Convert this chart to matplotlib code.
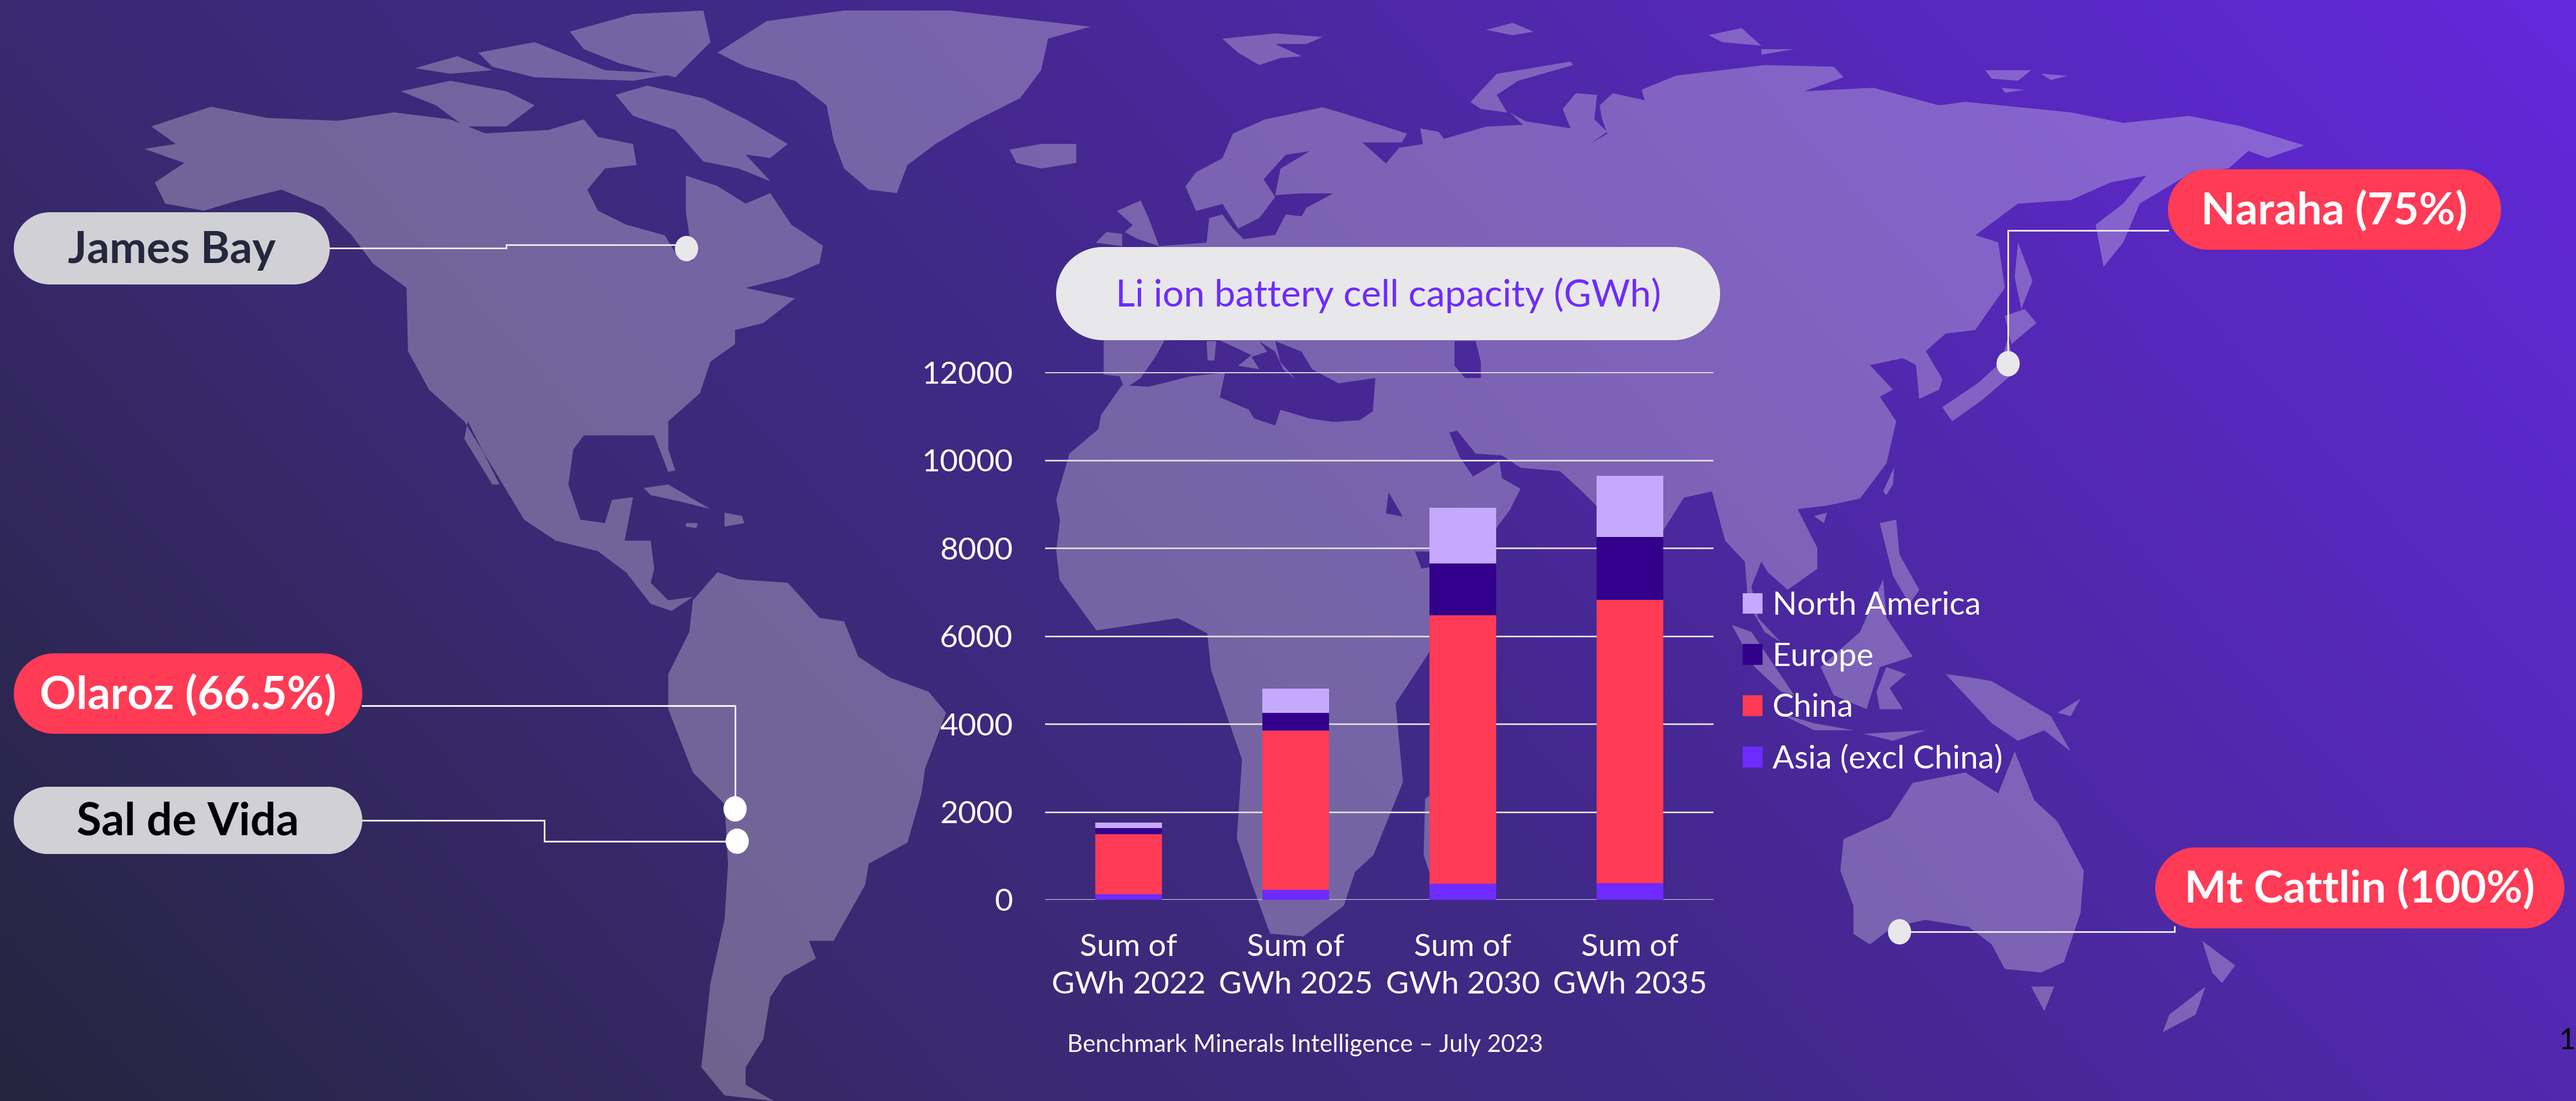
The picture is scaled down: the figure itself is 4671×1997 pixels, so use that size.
import numpy as np
import matplotlib
matplotlib.use("Agg")
import matplotlib.pyplot as plt
from matplotlib.colors import LinearSegmentedColormap
from matplotlib.patches import Polygon, Ellipse, PathPatch
from matplotlib.path import Path

W, H = 4671, 1997
DPI = 100
plt.rcParams['font.family'] = ['Lato', 'DejaVu Sans']

# ---------- chart data ----------
categories = ["Sum of\nGWh 2022", "Sum of\nGWh 2025", "Sum of\nGWh 2030", "Sum of\nGWh 2035"]
asia_excl_china = [130, 230, 360, 370]
china = [1365, 3625, 6110, 6447]
europe = [140, 395, 1175, 1430]
north_america = [115, 550, 1275, 1390]
y_ticks = [0, 2000, 4000, 6000, 8000, 10000, 12000]

# ---------- helpers mapping traced crops to pixels ----------
def z1(p): return [(1600 + x * 1.339, 400 + y * 1.0185) for x, y in p]
def z2(p): return [(x * 1.2755, y * 1.2736) for x, y in p]
def z3(p): return [(2800 + x * 1.1933, y * 1.2736) for x, y in p]
def z4(p): return [(1700 + x * 0.9566, y * 0.6378) for x, y in p]

# ---------- decorative world map outline (background only) ----------
land = [
 z2([(215,180),(300,152),(380,168),(480,172),(560,160),(640,170),(690,190),(780,185),(830,170),(850,195),(900,205),(905,235),(860,240),(835,270),(850,300),(890,320),(945,335),(960,360),(985,372),(975,300),(975,250),(1020,265),(1060,290),(1095,275),(1125,320),(1170,350),(1165,375),(1120,395),(1060,410),(1130,425),(1085,460),(1045,470),(1045,490),(1010,515),(995,560),(950,600),(950,640),(960,670),(950,672),(930,620),(880,620),(830,620),(815,640),(808,690),(825,740),(860,745),(870,712),(900,708),(888,770),(925,770),(930,810),(925,830),(950,855),(985,850),(955,870),(925,860),(890,815),(850,785),(790,770),(745,740),(700,665),(660,600),(610,555),(580,500),(578,410),(530,375),(500,335),(460,295),(400,270),(340,285),(290,300),(235,290),(220,260),(262,232),(205,212),(250,205)]),
 z2([(875,135),(920,122),(1000,140),(1060,170),(1120,205),(1095,225),(1060,220),(1095,258),(1050,240),(1000,230),(960,185),(900,165)]),
 z2([(570,130),(640,115),(720,130),(760,150),(720,180),(660,180),(620,150)]),
 z2([(590,97),(650,80),(700,100),(640,105)]),
 z2([(810,45),(900,20),(1000,15),(1010,60),(960,110),(880,90),(830,70)]),
 z2([(680,75),(760,60),(860,100),(960,105),(900,115),(760,110),(700,95)]),
 z2([(1020,75),(1090,30),(1200,15),(1350,15),(1550,38),(1490,55),(1480,100),(1450,140),(1380,175),(1330,205),(1290,235),(1275,275),(1235,270),(1200,240),(1185,200),(1175,150),(1130,115),(1060,95)]),
 z2([(1435,213),(1480,205),(1530,205),(1530,232),(1480,240),(1445,232)]),
 z2([(915,695),(950,690),(1010,725),(970,715),(925,705)]),
 z2([(1030,730),(1055,735),(1058,745),(1030,750)]),
 z2([(975,745),(992,745),(990,752),(975,750)]),
 z2([(985,855),(1020,815),(1050,825),(1120,830),(1165,880),(1200,885),(1220,935),(1265,965),(1320,985),(1345,1015),(1315,1095),(1310,1130),(1290,1200),(1235,1230),(1230,1260),(1185,1340),(1150,1340),(1160,1365),(1115,1390),(1095,1420),(1085,1480),(1060,1520),(1060,1545),(1100,1568),(1030,1560),(997,1520),(1010,1400),(1030,1310),(1035,1230),(1030,1145),(985,1100),(950,1010),(950,960),(980,900)]),
 # Africa
 z4([(750,1200),(800,1195),(790,1240),(820,1290),(855,1400),(850,1460),(885,1470),(905,1530),(905,1568)])
 + z1([(730,620),(775,610),(865,480),(830,530),(740,770),(710,830),(695,860),(705,1000),(665,1130),(640,1160),(625,1220),(570,1275),(525,1270),(500,1180),(480,1100),(487,960),(445,800),(440,735),(400,708),(340,720),(290,730),(240,640)])
 + z4([(225,1568),(232,1480),(225,1420),(250,1290),(305,1220),(310,1180),(350,1095),(400,1100),(480,1070),(545,1060),(535,1130),(590,1165),(600,1190),(640,1210),(650,1165),(705,1190)]),
 z1([(735,1030),(745,1020),(748,1190),(733,1130)]),
 # Eurasia
 z4([(420,700),(510,690),(515,620),(540,610),(560,650),(580,680),(640,668),(660,610),(690,615),(700,590),(750,550),(690,550),(640,555),(650,480),(705,430),(660,440),(618,510),(640,560),(610,620),(570,650),(540,580),(490,600),(470,530),(490,490),(540,450),(560,380),(620,340),(730,305),(775,325),(890,380),(880,405),(805,405),(850,465),(875,420),(920,410),(915,365),(950,375),(960,395),(1040,360),(1110,355),(1085,320),(1115,345),(1200,365),(1185,310),(1210,265),(1250,270),(1245,340),(1270,375),(1235,410),(1270,380),(1260,340),(1255,300),(1280,265),(1340,285),(1335,255),(1400,215),(1568,185)])
 + z3([(440,95),(455,110),(395,130),(500,125),(600,150),(640,145),(800,160),(880,175),(980,165),(1060,180),(1155,207),(1100,225),(1070,215),(1040,240),(985,245),(905,290),(880,345),(850,380),(838,320),(880,290),(915,250),(860,260),(800,285),(720,290),(655,335),(690,345),(700,410),(655,470),(610,475),(580,500),(605,540),(600,555),(570,568),(565,520),(545,510),(495,520),(530,555),(510,565),(535,600),(520,660),(480,710),(430,720),(385,725),(415,780),(415,810),(370,840),(340,815),(330,800),(315,835),(325,880),(360,915),(335,900),(310,860),(305,800),(275,770),(255,700)])
 + z4([(1415,1415),(1377,1505),(1315,1640),(1270,1520),(1250,1440),(1220,1395),(1180,1340),(1105,1330),(1070,1295),(1020,1290),(985,1225),(970,1230),(990,1300),(1015,1355),(1055,1320),(1065,1310),(1070,1360),(1105,1390),(1085,1450),(1060,1500),(960,1570),(905,1568),(890,1490),(855,1400),(820,1290),(790,1240),(800,1195),(825,1170),(830,1075),(760,1090),(710,1050),(690,1000),(640,970),(650,1030),(680,1080),(655,1050),(640,1000),(610,970),(625,1000),(595,1015),(610,1050),(570,1040),(595,1010),(560,985),(530,965),(430,968),(415,1010),(385,1075),(355,1105),(345,1070),(315,1065),(315,960),(350,800)]),
 z4([(340,600),(385,570),(400,620),(420,700),(380,680),(355,660),(370,640)]),
 z4([(300,690),(320,660),(350,665),(350,700)]),
 z4([(510,970),(528,970),(525,1025),(512,1025)]),
 z4([(540,110),(640,95),(730,105),(700,125),(640,125),(690,160),(650,165),(610,185),(570,150)]),
 z4([(1010,290),(1060,210),(1200,175),(1205,185),(1100,230),(1060,270),(1080,320),(1030,310)]),
 z4([(1040,85),(1090,65),(1130,90),(1090,100)]),
 z3([(250,50),(300,40),(330,65),(270,60)]),
 z3([(330,70),(380,70),(330,78)]),
 z3([(670,100),(740,100),(720,115),(680,112)]),
 z3([(755,105),(795,108),(770,114)]),
 z3([(695,125),(730,128),(700,132)]),
 z3([(720,345),(742,400),(725,440),(715,395)]),
 z3([(700,450),(730,440),(748,460),(710,490)]),
 z3([(605,580),(660,545),(695,515),(705,480),(715,530),(665,570),(620,600)]),
 z3([(515,700),(532,665),(530,690),(520,705)]),
 z3([(510,745),(535,740),(540,790),(570,840),(555,860),(530,820)]),
 z3([(410,735),(430,730),(425,745)]),
 z3([(285,890),(315,900),(380,990),(360,985),(320,950)]),
 z3([(420,950),(480,900),(515,825),(520,880),(560,935),(510,950),(490,1010),(440,990)]),
 z3([(505,985),(520,950),(550,960),(525,980),(545,1010),(510,1010)]),
 z3([(355,1015),(410,1030),(470,1040),(410,1040)]),
 z3([(485,1045),(580,1040),(530,1055)]),
 z3([(610,960),(650,965),(680,970),(770,1020),(800,1070),(760,1040),(720,1055),(680,1030),(640,990)]),
 z3([(780,1015),(815,995),(800,1020)]),
 z3([(455,1195),(525,1165),(560,1115),(640,1100),(690,1130),(715,1070),(745,1140),(780,1170),(820,1240),(815,1300),(790,1370),(755,1385),(700,1380),(680,1345),(645,1320),(580,1310),(530,1320),(495,1345),(470,1330),(470,1290),(450,1240)]),
 z3([(740,1405),(775,1405),(760,1440)]),
 z3([(1000,1340),(1050,1375),(1030,1400),(1015,1385)]),
 z3([(1005,1405),(990,1445),(940,1470),(950,1445)]),
]
holes = [
 z4([(980,970),(1020,970),(1030,1030),(1030,1075),(1000,1075),(980,1040)]),
 z2([(665,600),(710,690),(700,690),(660,625)]),
]

def oriented(poly, ccw=True):
    a = np.array(poly)
    s = np.sum(a[:, 0] * np.roll(a[:, 1], -1) - np.roll(a[:, 0], -1) * a[:, 1])
    return a if (s > 0) == ccw else a[::-1]

verts, codes = [], []
for poly, ccw in [(p, True) for p in land] + [(p, False) for p in holes]:
    a = oriented(poly, ccw)
    verts += list(map(tuple, a)) + [tuple(a[0])]
    codes += [Path.MOVETO] + [Path.LINETO] * (len(a) - 1) + [Path.CLOSEPOLY]

# ---------- figure ----------
fig = plt.figure(figsize=(W / DPI, H / DPI), dpi=DPI)
bg = fig.add_axes([0, 0, 1, 1])
bg.set_xlim(0, W); bg.set_ylim(H, 0); bg.axis('off')

xx, yy = np.meshgrid(np.linspace(0, 1, 600), np.linspace(0, 1, 300))
t = xx * 0.72 + (1 - yy) * 0.28
cmap = LinearSegmentedColormap.from_list('bg', [(0, '#25253f'), (0.28, '#3a2a72'), (0.5, '#42298a'), (0.72, '#5228af'), (1, '#6329dc')])
bg.imshow(t, extent=(0, W, H, 0), cmap=cmap, vmin=0, vmax=1, aspect='auto', zorder=0)
bg.add_patch(PathPatch(Path(verts, codes), fc='#e8e2ea', ec='none', alpha=0.32, zorder=1))
bg.set_xlim(0, W); bg.set_ylim(H, 0)

GREY, RED, LIGHT = '#d0d0d5', '#ff3b56', '#e8e8eb'

def pill(x0, x1, y0, y1, fc, text, tc, size, weight='bold'):
    r = (y1 - y0) / 2
    cy = (y0 + y1) / 2
    a = np.linspace(-np.pi / 2, np.pi / 2, 60)
    px = np.r_[x1 - r + r * np.cos(a), x0 + r - r * np.cos(a[::-1])[::-1] * 0 - r * np.cos(a)]
    py = np.r_[cy + r * np.sin(a), cy - r * np.sin(a)]
    bg.add_patch(Polygon(np.c_[px, py], closed=True, fc=fc, ec='none', zorder=5))
    bg.text((x0 + x1) / 2, cy + 3, text, color=tc, fontsize=size, fontweight=weight,
            ha='center', va='center', zorder=6)

def leader(points, dot, color='white', lw=2.2):
    p = np.array(points)
    bg.plot(p[:, 0], p[:, 1], color=color, lw=lw, solid_joinstyle='miter', zorder=3)
    bg.add_patch(Ellipse(dot, 42, 46, fc=color, ec='none', zorder=4))

leader(z2([(469,353),(720,353),(720,349),(975,349)]), z2([(976,354)])[0], LIGHT)
leader(z2([(515,1005),(1045,1005),(1045,1150)]), z2([(1045,1152)])[0])
leader(z2([(515,1168),(774,1168),(774,1198),(1048,1198)]), z2([(1048,1198)])[0])
leader(z3([(948,328),(705,328),(705,518)]), z3([(705,518)])[0], LIGHT)
leader(z3([(540,1327),(958,1327),(958,1320)]), z3([(540,1327)])[0], LIGHT)

pill(25, 598, 385, 516, GREY, "James Bay", '#25283c', 58)
pill(25, 657, 1185, 1331, RED, "Olaroz (66.5%)", 'white', 59)
pill(25, 657, 1427, 1549, GREY, "Sal de Vida", 'black', 59)
pill(3931, 4535, 307, 453, RED, "Naraha (75%)", 'white', 58)
pill(3908, 4650, 1537, 1684, RED, "Mt Cattlin (100%)", 'white', 58)
pill(1915, 3119, 448, 617, LIGHT, "Li ion battery cell capacity (GWh)", '#6e2bff', 49, weight='normal')

bg.text(1935, 1895, "Benchmark Minerals Intelligence \u2013 July 2023", color='white', fontsize=31.5, va='center', ha='left', zorder=6)
bg.text(4640, 1903, "15", color='black', fontsize=38, va='baseline', ha='left', zorder=6, clip_on=False)

# ---------- stacked bars ----------
L, R, T, B = 1895, 3107, 675, 1632
ax = fig.add_axes([L / W, 1 - B / H, (R - L) / W, (B - T) / H], zorder=2)
ax.patch.set_alpha(0)
x = np.arange(len(categories))
series = [("Asia (excl China)", asia_excl_china, '#6e2bff'), ("China", china, '#ff3b56'),
          ("Europe", europe, '#32008a'), ("North America", north_america, '#c4a9ff')]
base = np.zeros(len(categories))
for name, vals, col in series:
    ax.bar(x, vals, 0.4, bottom=base, color=col, label=name, zorder=3)
    base += np.array(vals)
ax.set_xlim(-0.5, 3.5)
ax.set_ylim(0, 12000)
ax.set_yticks(y_ticks)
ax.set_xticks(x, categories)
ax.grid(axis='y', color='#d9d9d9', lw=2.2, zorder=1)
ax.set_axisbelow(True)
for s in ax.spines.values():
    s.set_visible(False)
ax.tick_params(axis='y', length=0, pad=42, labelcolor='white', labelsize=41)
ax.tick_params(axis='x', length=0, pad=44, labelcolor='white', labelsize=41)
for lab in ax.get_xticklabels():
    lab.set_linespacing(1.42)

handles, labels = ax.get_legend_handles_labels()
ax.legend(handles[::-1], labels[::-1], loc='upper left', bbox_to_anchor=(3160 / W, 1 - 1072 / H),
          bbox_transform=fig.transFigure, frameon=False, fontsize=42, labelcolor='white',
          borderpad=0, borderaxespad=0, handlelength=0.62, handleheight=0.62, handletextpad=0.3, labelspacing=0.68)

fig.savefig('out.png', dpi=DPI)
